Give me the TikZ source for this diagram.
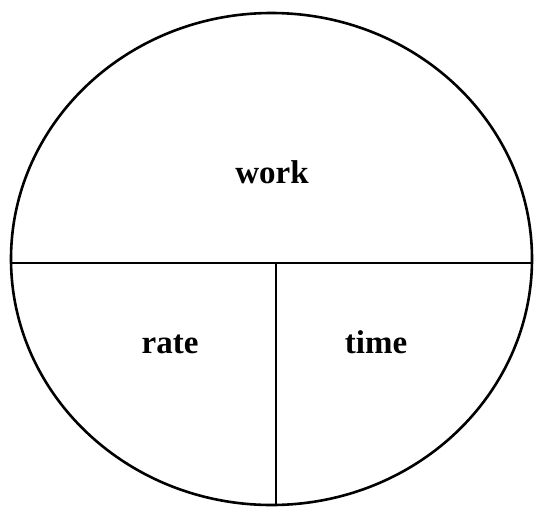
\documentclass[tikz,border=0pt]{standalone}
\usepackage{fontspec}
\setmainfont{Liberation Serif}
\begin{document}
\begin{tikzpicture}[x=1pt,y=-1pt,
  edge/.style={line width=2.6pt,black},
  lbl/.style={font=\fontsize{33}{33}\selectfont\bfseries,anchor=base,inner sep=0pt}]
\useasboundingbox (0,0) rectangle (536,507);
\begin{scope}
\clip (0,0) rectangle (536,507);
\draw[edge] (271.5,259) ellipse [x radius=260.5, y radius=246];
\coordinate (L) at (11,263);
\coordinate (R) at (532,263);
\coordinate (M) at (276,263);
\coordinate (B) at (276,506);
\draw[edge] (L) -- (R);
\draw[edge] (M) -- (B);
\end{scope}
\node[lbl] (work) at (272,183) {work};
\node[lbl] (rate) at (170,353) {rate};
\node[lbl] (time) at (376,353) {time};
\end{tikzpicture}
\end{document}
